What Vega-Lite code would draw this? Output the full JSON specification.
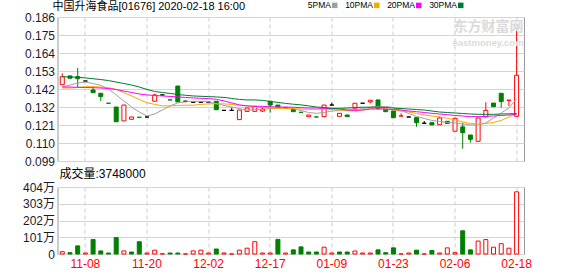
{
  "$schema": "https://vega.github.io/schema/vega-lite/v6.json",
  "background": "white",
  "padding": {"left": 21.5, "top": 0, "right": 0, "bottom": 0},
  "spacing": -1,
  "config": {
    "view": {"stroke": "#999999", "strokeWidth": 1},
    "font": "Liberation Sans",
    "axis": {"title": null, "ticks": false, "domain": false, "gridColor": "#d4d4d4", "gridWidth": 1, "labelFont": "Liberation Sans, Noto Sans CJK SC", "labelColor": "#1a1a2e", "labelOverlap": false},
    "axisX": {"gridDash": [4, 3], "gridColor": "#cccccc"}
  },
  "resolve": {"scale": {"y": "independent", "fill": "independent", "stroke": "independent"}},
  "data": {"values": [
    {"d":"11-05","o":0.1451,"h":0.1520,"l":0.1451,"c":0.1499,"s":"u","v":140000,"vs":"r","m5":0.1437,"m10":0.1431,"m20":0.1437,"m30":0.1499},
    {"d":"11-06","o":0.1504,"h":0.1504,"l":0.1490,"c":0.1490,"s":"d","v":80000,"vs":"g","m5":0.1449,"m10":0.1431,"m20":0.1437,"m30":0.1498},
    {"d":"11-07","o":0.1500,"h":0.1552,"l":0.1437,"c":0.1487,"s":"d","v":490000,"vs":"g","m5":0.1461,"m10":0.1434,"m20":0.1435,"m30":0.1496},
    {"d":"11-08","o":0.1473,"h":0.1473,"l":0.1473,"c":0.1473,"s":"k","v":60000,"vs":"r","m5":0.1467,"m10":0.1439,"m20":0.1434,"m30":0.1492},
    {"d":"11-11","o":0.1419,"h":0.1437,"l":0.1403,"c":0.1403,"s":"d","v":870000,"vs":"g","m5":0.1458,"m10":0.1439,"m20":0.1433,"m30":0.1487},
    {"d":"11-12","o":0.1399,"h":0.1399,"l":0.1351,"c":0.1379,"s":"d","v":185000,"vs":"g","m5":0.1447,"m10":0.1437,"m20":0.1431,"m30":0.1482},
    {"d":"11-13","o":0.1339,"h":0.1339,"l":0.1339,"c":0.1339,"s":"g","v":60000,"vs":"g","m5":0.1425,"m10":0.1433,"m20":0.1428,"m30":0.1476},
    {"d":"11-14","o":0.1316,"h":0.1316,"l":0.1227,"c":0.1227,"s":"d","v":990000,"vs":"g","m5":0.1389,"m10":0.1422,"m20":0.1422,"m30":0.1467},
    {"d":"11-15","o":0.1232,"h":0.1328,"l":0.1232,"c":0.1328,"s":"u","v":185000,"vs":"r","m5":0.1353,"m10":0.1403,"m20":0.1413,"m30":0.1458},
    {"d":"11-18","o":0.1242,"h":0.1256,"l":0.1242,"c":0.1256,"s":"u","v":120000,"vs":"g","m5":0.1316,"m10":0.1383,"m20":0.1404,"m30":0.1449},
    {"d":"11-19","o":0.1254,"h":0.1254,"l":0.1254,"c":0.1254,"s":"g","v":740000,"vs":"g","m5":0.1286,"m10":0.1362,"m20":0.1395,"m30":0.1437},
    {"d":"11-20","o":0.1256,"h":0.1262,"l":0.1256,"c":0.1256,"s":"k","v":60000,"vs":"r","m5":0.1262,"m10":0.1342,"m20":0.1389,"m30":0.1422},
    {"d":"11-21","o":0.1351,"h":0.1397,"l":0.1351,"c":0.1389,"s":"u","v":230000,"vs":"r","m5":0.1274,"m10":0.1332,"m20":0.1386,"m30":0.1410},
    {"d":"11-22","o":0.1389,"h":0.1389,"l":0.1389,"c":0.1389,"s":"k","v":10000,"vs":"r","m5":0.1298,"m10":0.1323,"m20":0.1383,"m30":0.1404},
    {"d":"11-25","o":0.1359,"h":0.1359,"l":0.1359,"c":0.1359,"s":"g","v":60000,"vs":"g","m5":0.1323,"m10":0.1323,"m20":0.1380,"m30":0.1398},
    {"d":"11-26","o":0.1443,"h":0.1443,"l":0.1347,"c":0.1347,"s":"d","v":60000,"vs":"g","m5":0.1341,"m10":0.1326,"m20":0.1377,"m30":0.1392},
    {"d":"11-27","o":0.1351,"h":0.1351,"l":0.1351,"c":0.1351,"s":"k","v":5000,"vs":"r","m5":0.1347,"m10":0.1327,"m20":0.1374,"m30":0.1387},
    {"d":"11-28","o":0.1345,"h":0.1345,"l":0.1345,"c":0.1345,"s":"k","v":185000,"vs":"r","m5":0.1351,"m10":0.1327,"m20":0.1371,"m30":0.1383},
    {"d":"11-29","o":0.1345,"h":0.1345,"l":0.1345,"c":0.1345,"s":"k","v":230000,"vs":"r","m5":0.1350,"m10":0.1332,"m20":0.1369,"m30":0.1381},
    {"d":"12-02","o":0.1345,"h":0.1345,"l":0.1345,"c":0.1345,"s":"k","v":60000,"vs":"r","m5":0.1347,"m10":0.1335,"m20":0.1367,"m30":0.1379},
    {"d":"12-03","o":0.1351,"h":0.1351,"l":0.1300,"c":0.1300,"s":"d","v":300000,"vs":"g","m5":0.1336,"m10":0.1336,"m20":0.1363,"m30":0.1377},
    {"d":"12-04","o":0.1296,"h":0.1296,"l":0.1296,"c":0.1296,"s":"k","v":60000,"vs":"r","m5":0.1326,"m10":0.1335,"m20":0.1353,"m30":0.1374},
    {"d":"12-05","o":0.1296,"h":0.1312,"l":0.1296,"c":0.1296,"s":"k","v":5000,"vs":"r","m5":0.1316,"m10":0.1332,"m20":0.1341,"m30":0.1368},
    {"d":"12-06","o":0.1240,"h":0.1298,"l":0.1240,"c":0.1298,"s":"u","v":230000,"vs":"r","m5":0.1307,"m10":0.1326,"m20":0.1329,"m30":0.1362},
    {"d":"12-09","o":0.1290,"h":0.1310,"l":0.1290,"c":0.1310,"s":"u","v":350000,"vs":"r","m5":0.1296,"m10":0.1323,"m20":0.1323,"m30":0.1359},
    {"d":"12-10","o":0.1290,"h":0.1320,"l":0.1290,"c":0.1320,"s":"u","v":740000,"vs":"r","m5":0.1301,"m10":0.1316,"m20":0.1321,"m30":0.1359},
    {"d":"12-11","o":0.1292,"h":0.1316,"l":0.1286,"c":0.1304,"s":"u","v":60000,"vs":"r","m5":0.1302,"m10":0.1312,"m20":0.1320,"m30":0.1356},
    {"d":"12-17","o":0.1351,"h":0.1351,"l":0.1282,"c":0.1328,"s":"d","v":60000,"vs":"r","m5":0.1307,"m10":0.1310,"m20":0.1318,"m30":0.1350},
    {"d":"12-18","o":0.1328,"h":0.1328,"l":0.1316,"c":0.1316,"s":"d","v":880000,"vs":"g","m5":0.1310,"m10":0.1308,"m20":0.1316,"m30":0.1344},
    {"d":"12-19","o":0.1310,"h":0.1310,"l":0.1310,"c":0.1310,"s":"k","v":60000,"vs":"r","m5":0.1310,"m10":0.1307,"m20":0.1316,"m30":0.1338},
    {"d":"12-20","o":0.1302,"h":0.1302,"l":0.1288,"c":0.1288,"s":"d","v":250000,"vs":"g","m5":0.1307,"m10":0.1306,"m20":0.1315,"m30":0.1333},
    {"d":"12-23","o":0.1284,"h":0.1284,"l":0.1284,"c":0.1284,"s":"g","v":430000,"vs":"g","m5":0.1295,"m10":0.1304,"m20":0.1312,"m30":0.1329},
    {"d":"12-24","o":0.1258,"h":0.1268,"l":0.1258,"c":0.1268,"s":"u","v":120000,"vs":"g","m5":0.1283,"m10":0.1302,"m20":0.1310,"m30":0.1323},
    {"d":"12-27","o":0.1256,"h":0.1256,"l":0.1256,"c":0.1256,"s":"g","v":120000,"vs":"g","m5":0.1278,"m10":0.1302,"m20":0.1310,"m30":0.1316},
    {"d":"12-30","o":0.1258,"h":0.1328,"l":0.1258,"c":0.1328,"s":"u","v":410000,"vs":"r","m5":0.1283,"m10":0.1302,"m20":0.1308,"m30":0.1313},
    {"d":"01-09","o":0.1328,"h":0.1342,"l":0.1328,"c":0.1328,"s":"k","v":60000,"vs":"r","m5":0.1292,"m10":0.1301,"m20":0.1308,"m30":0.1308},
    {"d":"01-10","o":0.1260,"h":0.1278,"l":0.1260,"c":0.1278,"s":"u","v":120000,"vs":"g","m5":0.1295,"m10":0.1298,"m20":0.1304,"m30":0.1308},
    {"d":"01-13","o":0.1268,"h":0.1268,"l":0.1258,"c":0.1258,"s":"d","v":120000,"vs":"g","m5":0.1298,"m10":0.1295,"m20":0.1298,"m30":0.1310},
    {"d":"01-14","o":0.1309,"h":0.1339,"l":0.1309,"c":0.1339,"s":"u","v":180000,"vs":"r","m5":0.1301,"m10":0.1292,"m20":0.1296,"m30":0.1313},
    {"d":"01-15","o":0.1339,"h":0.1339,"l":0.1339,"c":0.1339,"s":"k","v":60000,"vs":"r","m5":0.1307,"m10":0.1298,"m20":0.1298,"m30":0.1315},
    {"d":"01-16","o":0.1347,"h":0.1357,"l":0.1339,"c":0.1357,"s":"u","v":60000,"vs":"r","m5":0.1315,"m10":0.1307,"m20":0.1304,"m30":0.1315},
    {"d":"01-17","o":0.1359,"h":0.1359,"l":0.1306,"c":0.1306,"s":"d","v":250000,"vs":"g","m5":0.1320,"m10":0.1312,"m20":0.1304,"m30":0.1316},
    {"d":"01-20","o":0.1302,"h":0.1302,"l":0.1288,"c":0.1288,"s":"d","v":80000,"vs":"g","m5":0.1320,"m10":0.1304,"m20":0.1304,"m30":0.1313},
    {"d":"01-23","o":0.1292,"h":0.1292,"l":0.1252,"c":0.1252,"s":"d","v":370000,"vs":"g","m5":0.1313,"m10":0.1298,"m20":0.1301,"m30":0.1310},
    {"d":"01-24","o":0.1262,"h":0.1278,"l":0.1262,"c":0.1262,"s":"r","v":3000,"vs":"r","m5":0.1295,"m10":0.1292,"m20":0.1298,"m30":0.1307},
    {"d":"01-29","o":0.1256,"h":0.1256,"l":0.1256,"c":0.1256,"s":"k","v":60000,"vs":"r","m5":0.1277,"m10":0.1286,"m20":0.1292,"m30":0.1304},
    {"d":"01-30","o":0.1252,"h":0.1252,"l":0.1197,"c":0.1222,"s":"d","v":230000,"vs":"g","m5":0.1259,"m10":0.1277,"m20":0.1288,"m30":0.1301},
    {"d":"01-31","o":0.1218,"h":0.1232,"l":0.1218,"c":0.1218,"s":"k","v":3000,"vs":"r","m5":0.1247,"m10":0.1268,"m20":0.1283,"m30":0.1298},
    {"d":"02-03","o":0.1222,"h":0.1222,"l":0.1208,"c":0.1208,"s":"d","v":210000,"vs":"g","m5":0.1235,"m10":0.1262,"m20":0.1278,"m30":0.1292},
    {"d":"02-04","o":0.1209,"h":0.1258,"l":0.1209,"c":0.1250,"s":"u","v":60000,"vs":"r","m5":0.1229,"m10":0.1256,"m20":0.1274,"m30":0.1286},
    {"d":"02-05","o":0.1230,"h":0.1230,"l":0.1217,"c":0.1217,"s":"d","v":370000,"vs":"r","m5":0.1223,"m10":0.1248,"m20":0.1270,"m30":0.1283},
    {"d":"02-06","o":0.1170,"h":0.1248,"l":0.1170,"c":0.1248,"s":"u","v":80000,"vs":"r","m5":0.1220,"m10":0.1238,"m20":0.1265,"m30":0.1280},
    {"d":"02-07","o":0.1196,"h":0.1222,"l":0.1064,"c":0.1161,"s":"d","v":1400000,"vs":"g","m5":0.1214,"m10":0.1226,"m20":0.1262,"m30":0.1277},
    {"d":"02-10","o":0.1147,"h":0.1147,"l":0.1101,"c":0.1121,"s":"d","v":250000,"vs":"g","m5":0.1208,"m10":0.1217,"m20":0.1258,"m30":0.1274},
    {"d":"02-11","o":0.1109,"h":0.1250,"l":0.1109,"c":0.1250,"s":"u","v":780000,"vs":"r","m5":0.1207,"m10":0.1213,"m20":0.1258,"m30":0.1272},
    {"d":"02-12","o":0.1256,"h":0.1345,"l":0.1256,"c":0.1296,"s":"u","v":870000,"vs":"r","m5":0.1220,"m10":0.1217,"m20":0.1260,"m30":0.1272},
    {"d":"02-13","o":0.1340,"h":0.1340,"l":0.1318,"c":0.1318,"s":"d","v":410000,"vs":"r","m5":0.1250,"m10":0.1223,"m20":0.1262,"m30":0.1272},
    {"d":"02-14","o":0.1399,"h":0.1399,"l":0.1312,"c":0.1349,"s":"d","v":620000,"vs":"r","m5":0.1280,"m10":0.1235,"m20":0.1265,"m30":0.1274},
    {"d":"02-17","o":0.1357,"h":0.1357,"l":0.1322,"c":0.1357,"s":"r","v":350000,"vs":"r","m5":0.1310,"m10":0.1256,"m20":0.1268,"m30":0.1275},
    {"d":"02-18","o":0.1260,"h":0.1786,"l":0.1260,"c":0.1508,"s":"u","v":3748000,"vs":"r","m5":0.1367,"m10":0.1278,"m20":0.1272,"m30":0.1276}
  ]},
  "vconcat": [
    {
      "width": 466.5,
      "height": 144,
      "title": {"text": "中国升海食品[01676] 2020-02-18 16:00", "anchor": "start", "frame": "group", "dx": -5, "dy": 3, "offset": 2, "fontSize": 11, "fontWeight": "normal", "font": "Liberation Sans, Noto Sans CJK SC", "color": "#000000"},
      "layer": [
        {
          "mark": {"type": "rule", "strokeWidth": 1},
          "encoding": {
            "x": {"field": "d", "type": "ordinal", "sort": null, "scale": {"type": "band", "paddingInner": 0, "paddingOuter": 0.29, "align": 0.21}, "axis": {"labels": false, "grid": true, "bandPosition": 0.5, "values": ["11-08", "11-20", "12-02", "12-17", "01-09", "01-23", "02-06", "02-18"]}},
            "y": {"field": "l", "type": "quantitative", "scale": {"domain": [0.099, 0.186], "nice": false, "zero": false}, "axis": {"values": [0.099, 0.109875, 0.12075, 0.131625, 0.1425, 0.153375, 0.16425, 0.175125, 0.186], "tickCount": 20, "format": ".3f", "labelFontSize": 12, "labelPadding": 3, "labelOverlap": false, "grid": true}},
            "y2": {"field": "h"},
            "stroke": {"field": "s", "type": "nominal", "scale": {"domain": ["u", "d", "k", "r", "g"], "range": ["#ff0000", "#008000", "#000000", "#ff0000", "#008000"]}, "legend": null}
          }
        },
        {
          "mark": {"type": "bar", "width": 4, "strokeWidth": 1},
          "encoding": {
            "x": {"field": "d", "type": "ordinal", "sort": null},
            "y": {"field": "o", "type": "quantitative", "scale": {"domain": [0.099, 0.186], "nice": false, "zero": false}, "axis": {"values": [0.099, 0.109875, 0.12075, 0.131625, 0.1425, 0.153375, 0.16425, 0.175125, 0.186], "tickCount": 20, "format": ".3f", "labelFontSize": 12, "labelPadding": 3, "labelOverlap": false, "grid": true}},
            "y2": {"field": "c"},
            "stroke": {"field": "s", "type": "nominal", "legend": null},
            "fill": {"field": "s", "type": "nominal", "scale": {"domain": ["u", "d", "k", "r", "g"], "range": ["#ffffff", "#008000", "#000000", "#ff0000", "#008000"]}, "legend": null}
          }
        },
        {
          "transform": [{"fold": ["m5", "m10", "m20", "m30"], "as": ["ma", "val"]}],
          "mark": {"type": "line", "strokeWidth": 1},
          "encoding": {
            "x": {"field": "d", "type": "ordinal", "sort": null},
            "y": {"field": "val", "type": "quantitative", "scale": {"domain": [0.099, 0.186], "nice": false, "zero": false}, "axis": {"values": [0.099, 0.109875, 0.12075, 0.131625, 0.1425, 0.153375, 0.16425, 0.175125, 0.186], "tickCount": 20, "format": ".3f", "labelFontSize": 12, "labelPadding": 3, "labelOverlap": false, "grid": true}},
            "color": {"field": "ma", "type": "nominal", "scale": {"domain": ["m5", "m10", "m20", "m30"], "range": ["#a0a0a0", "#ffa500", "#ff00ff", "#007a2f"]},
              "legend": {"orient": "none", "legendX": 273, "legendY": -16, "direction": "horizontal", "title": null, "symbolType": "square", "symbolSize": 30, "symbolStrokeWidth": 0, "labelFontSize": 8.5, "labelFont": "Liberation Sans Narrow, Liberation Sans", "labelColor": "#000000", "labelAlign": "right", "labelOffset": -8, "columnPadding": 7, "labelExpr": "{'m5':'5PMA','m10':'10PMA','m20':'20PMA','m30':'30PMA'}[datum.label]",
                "encode": {"symbols": {"update": {"fill": {"scale": "color", "field": "value"}, "stroke": {"value": "transparent"}}}}}}
          }
        },
        {
          "data": {"values": [{"t": "东方财富网", "p": 0.1801}]},
          "mark": {"type": "text", "align": "right", "baseline": "middle", "dx": 7, "fontSize": 14, "fontWeight": "bold", "font": "Noto Sans CJK SC", "color": "#dadada"},
          "encoding": {
            "x": {"datum": "02-18", "type": "ordinal"},
            "y": {"field": "p", "type": "quantitative", "scale": {"domain": [0.099, 0.186], "nice": false, "zero": false}},
            "text": {"field": "t"}
          }
        },
        {
          "data": {"values": [{"t": "eastmoney.com", "p": 0.1703}]},
          "mark": {"type": "text", "align": "right", "baseline": "middle", "dx": 7, "fontSize": 9.5, "fontWeight": "bold", "font": "Liberation Sans", "color": "#dcdcdc"},
          "encoding": {
            "x": {"datum": "02-18", "type": "ordinal"},
            "y": {"field": "p", "type": "quantitative", "scale": {"domain": [0.099, 0.186], "nice": false, "zero": false}},
            "text": {"field": "t"}
          }
        }
      ]
    },
    {
      "width": 466.5,
      "height": 67,
      "title": {"text": "成交量:3748000", "anchor": "start", "frame": "group", "dx": 2, "offset": 0, "fontSize": 12, "fontWeight": "normal", "font": "Liberation Sans, Noto Sans CJK SC", "color": "#000000"},
      "mark": {"type": "bar", "width": 4, "strokeWidth": 1},
      "encoding": {
        "x": {"field": "d", "type": "ordinal", "sort": null, "scale": {"type": "band", "paddingInner": 0, "paddingOuter": 0.29, "align": 0.21}, "axis": {"labels": true, "grid": true, "bandPosition": 0.5, "labelAngle": 0, "labelColor": "#ff0000", "labelFontSize": 12, "labelPadding": 4, "values": ["11-08", "11-20", "12-02", "12-17", "01-09", "01-23", "02-06", "02-18"]}},
        "y": {"field": "v", "type": "quantitative", "scale": {"domain": [0, 4040000], "nice": false}, "axis": {"values": [0, 1010000, 2020000, 3030000, 4040000], "tickCount": 20, "labelExpr": "datum.value == 0 ? '0' : format(datum.value / 10000, 'd') + '万'", "labelFontSize": 12, "labelPadding": 3, "grid": true}},
        "stroke": {"field": "vs", "type": "nominal", "scale": {"domain": ["r", "g"], "range": ["#ff0000", "#008000"]}, "legend": null},
        "fill": {"field": "vs", "type": "nominal", "scale": {"domain": ["r", "g"], "range": ["#ffffff", "#008000"]}, "legend": null}
      }
    }
  ]
}
